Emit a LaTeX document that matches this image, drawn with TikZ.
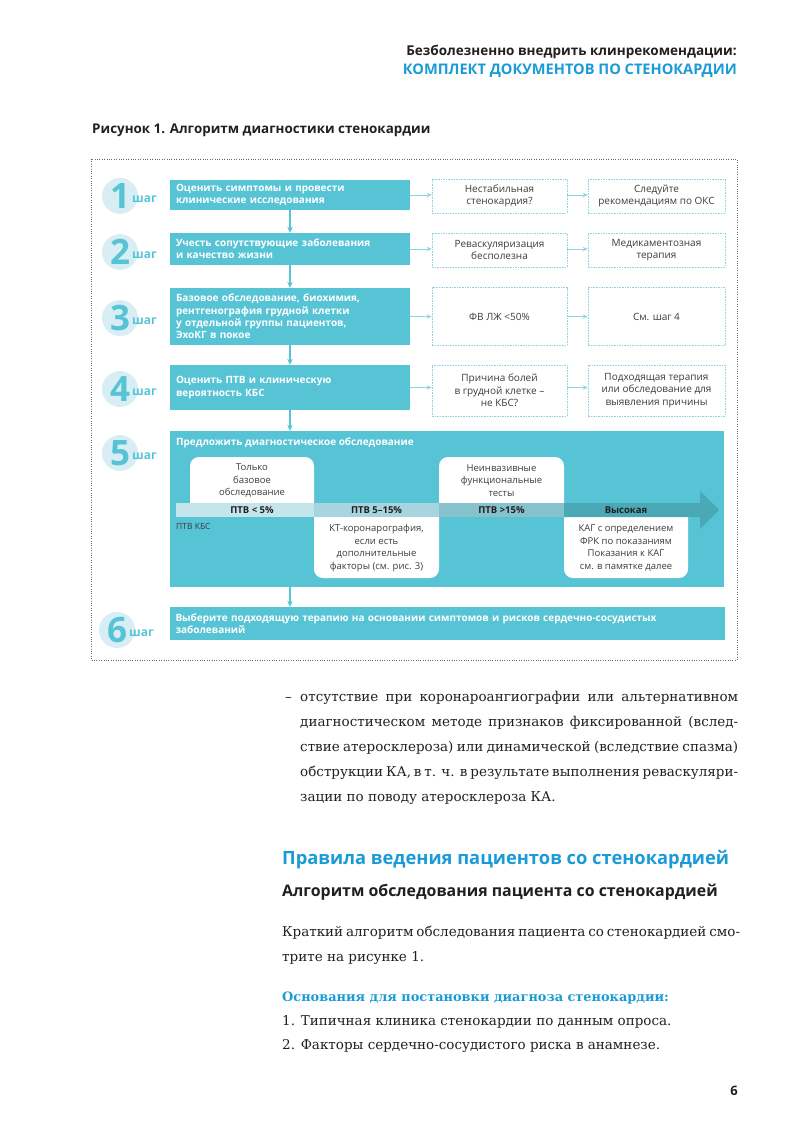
\documentclass[tikz,border=0pt]{standalone}
\usepackage{fontspec}
\setmainfont{DejaVu Serif}
\newfontfamily\os{Open Sans}
\usepackage{xcolor}
\usepackage{tikz}
\usetikzlibrary{arrows.meta,positioning}
\definecolor{biryuza}{HTML}{57C4D6}
\definecolor{biryuzasvet}{HTML}{8ED6E2}
\definecolor{krugfon}{HTML}{D8EEF4}
\definecolor{goluboy}{HTML}{1A9BD7}
\definecolor{temny}{HTML}{231F20}
\definecolor{seryj}{HTML}{3C3C3C}
\definecolor{ramkaser}{HTML}{6A6A6A}
\definecolor{polosa1}{HTML}{C5E5EC}
\definecolor{polosa2}{HTML}{A6D5DF}
\definecolor{polosa3}{HTML}{86C2CD}
\definecolor{polosa4}{HTML}{4AA8B7}
\newcommand{\rovno}[2]{\makebox[#1][s]{#2}}
\tikzset{
  blok/.style={fill=biryuza,text=white,font=\os\bfseries\fontsize{10}{12.4}\selectfont,align=left,text width=228pt,inner xsep=6pt,inner ysep=0pt},
  punktir/.style={draw=biryuzasvet,dash pattern=on 1.6pt off 1pt,line width=0.6pt,text=seryj,align=center,inner sep=2pt,minimum width=135pt,font=\os\fontsize{10}{12.4}\selectfont},
  krug/.style={circle,fill=krugfon,text=biryuza,minimum size=36pt,inner sep=0pt,font=\os\bfseries\fontsize{35}{35}\selectfont},
  shagtxt/.style={text=biryuza,font=\os\bfseries\fontsize{12}{12}\selectfont,inner sep=0pt,anchor=base west},
  strelka/.style={-{Stealth[length=6pt,width=5.5pt]},line width=1.2pt,biryuza},
  strelkab/.style={-{Stealth[length=5pt,width=4.5pt]},line width=1pt,biryuzasvet},
  belaya/.style={fill=white,rounded corners=9pt},
  tekstb/.style={text=seryj,align=center,inner sep=0pt},
  metka/.style={font=\os\bfseries\fontsize{9.5}{10}\selectfont,text=temny,inner sep=0pt},
  ramka/.style={draw=ramkaser,line width=0.8pt,dash pattern=on 0.8pt off 1.6pt},
  stroka/.style={anchor=base west,inner sep=0pt,font=\fontsize{13.5}{25}\selectfont,text=temny},
  zagolovok/.style={inner sep=0pt,font=\os\bfseries\fontsize{13.5}{16}\selectfont},
}
\begin{document}
\begin{tikzpicture}[x=1pt,y=-1pt,font=\os\fontsize{9.5}{12.4}\selectfont]
  \useasboundingbox (0,0) rectangle (790,1122);
  \node[zagolovok,text=temny,anchor=base east] (zag1) at (737,55.5) {Безболезненно внедрить клинрекомендации:};
  \node[zagolovok,text=goluboy,anchor=base east,font=\os\bfseries\fontsize{14.6}{16}\selectfont] (zag2) at (737,74) {КОМПЛЕКТ ДОКУМЕНТОВ ПО СТЕНОКАРДИИ};
  \node[zagolovok,text=temny,anchor=base west,font=\os\bfseries\fontsize{13.4}{15}\selectfont] (ris) at (92,133) {Рисунок 1. Алгоритм диагностики стенокардии};
  \draw[ramka] (91,159) rectangle (737,660);

  \node[blok,minimum height=30pt] (s1) at (290,195) {Оценить симптомы и провести\\клинические исследования};
  \node[blok,minimum height=32pt] (s2) at (290,249) {Учесть сопутствующие заболевания\\и качество жизни};
  \node[blok,minimum height=57pt] (s3) at (290,316.5) {Базовое обследование, биохимия,\\рентгенография грудной клетки\\у отдельной группы пациентов,\\ЭхоКГ в покое};
  \node[blok,minimum height=45pt] (s4) at (290,387.5) {Оценить ПТВ и клиническую\\вероятность КБС};
  \node[fill=biryuza,minimum width=554pt,minimum height=156pt,inner sep=0pt] (s5) at (447,509) {};
  \node[blok,text width=543pt,minimum height=33pt] (s6) at (447,623.5) {Выберите подходящую терапию на основании симптомов и рисков сердечно-сосудистых\\заболеваний};

  \node[krug] (k1) at (120,196) {1};
  \node[krug] (k2) at (120,252) {2};
  \node[krug] (k3) at (120,318) {3};
  \node[krug] (k4) at (120,389) {4};
  \node[krug] (k5) at (120,453) {5};
  \node[krug] (k6) at (117,630) {6};
  \node[shagtxt] (t1) at ([shift={(12,6)}]k1.center) {шаг};
  \node[shagtxt] (t2) at ([shift={(12,6)}]k2.center) {шаг};
  \node[shagtxt] (t3) at ([shift={(12,6)}]k3.center) {шаг};
  \node[shagtxt] (t4) at ([shift={(12,6)}]k4.center) {шаг};
  \node[shagtxt] (t5) at ([shift={(12,6)}]k5.center) {шаг};
  \node[shagtxt] (t6) at ([shift={(12,6)}]k6.center) {шаг};

  \node[punktir,minimum height=34pt] (d1a) at (499.5,196) {Нестабильная\\стенокардия?};
  \node[punktir,minimum height=34pt,minimum width=137pt] (d1b) at (656.5,196) {Следуйте\\рекомендациям по ОКС};
  \node[punktir,minimum height=34pt] (d2a) at (499.5,250) {Реваскуляризация\\бесполезна};
  \node[punktir,minimum height=34pt,minimum width=137pt] (d2b) at (656.5,250) {Медикаментозная\\терапия};
  \node[punktir,minimum height=58pt] (d3a) at (499.5,316.5) {ФВ ЛЖ <50\%};
  \node[punktir,minimum height=58pt,minimum width=137pt] (d3b) at (656.5,316.5) {См. шаг 4};
  \node[punktir,minimum height=51pt] (d4a) at (499.5,390.5) {Причина болей\\в грудной клетке –\\не КБС?};
  \node[punktir,minimum height=51pt,minimum width=137pt] (d4b) at (656.5,390.5) {Подходящая терапия\\или обследование для\\выявления причины};

  \draw[strelka] (s1) -- (s2);
  \draw[strelka] (s2) -- (s3);
  \draw[strelka] (s3) -- (s4);
  \draw[strelka] (s4.south) -- (s4.south |- s5.north);
  \draw[strelka] (s5.south -| s4.south) -- (s6.north -| s4.south);
  \draw[strelkab] (s1.east) -- (s1.east -| d1a.west);
  \draw[strelkab] (d1a.east |- s1.east) -- (s1.east -| d1b.west);
  \draw[strelkab] (s2.east) -- (s2.east -| d2a.west);
  \draw[strelkab] (d2a.east |- s2.east) -- (s2.east -| d2b.west);
  \draw[strelkab] (s3.east) -- (s3.east -| d3a.west);
  \draw[strelkab] (d3a.east |- s3.east) -- (s3.east -| d3b.west);
  \draw[strelkab] (s4.east) -- (s4.east -| d4a.west);
  \draw[strelkab] (d4a.east |- s4.east) -- (s4.east -| d4b.west);

  \node[anchor=base west,inner sep=0pt,text=white,font=\os\bfseries\fontsize{10}{12.4}\selectfont] (s5t) at (176,445.5) {Предложить диагностическое обследование};
  \fill[belaya] (190,511) rectangle (314,457);
  \fill[belaya] (439,511) rectangle (564,457);
  \fill[belaya] (314,509) rectangle (439,578);
  \fill[belaya] (564,509) rectangle (688,578);
  \fill[polosa1] (176,503) rectangle (314,517);
  \fill[polosa2] (314,503) rectangle (439,517);
  \fill[polosa3] (439,503) rectangle (564,517);
  \fill[polosa4] (564,503) -- (700,503) -- (700,491) -- (719,510) -- (700,529) -- (700,517) -- (564,517) -- cycle;
  \node[tekstb] (b1) at (252,480.5) {Только\\базовое\\обследование};
  \node[tekstb] (b3) at (501.5,480.5) {Неинвазивные\\функциональные\\тесты};
  \node[tekstb] (b2) at (376.5,548) {КТ-коронарография,\\если есть\\дополнительные\\факторы (см. рис. 3)};
  \node[tekstb] (b4) at (626,548) {КАГ с определением\\ФРК по показаниям\\Показания к КАГ\\см. в памятке далее};
  \node[metka] (m1) at (252,510) {ПТВ < 5\%};
  \node[metka] (m2) at (376.5,510) {ПТВ 5–15\%};
  \node[metka] (m3) at (501.5,510) {ПТВ >15\%};
  \node[metka] (m4) at (626,510) {Высокая};
  \node[anchor=west,inner sep=0pt,text=seryj,font=\os\fontsize{8.5}{9}\selectfont] (kbs) at (176,526) {ПТВ КБС};

  \node[stroka] (tire) at (285,701) {–};
  \node[stroka] (p1) at (300,701) {\rovno{438pt}{отсутствие при коронароангиографии или альтернативном}};
  \node[stroka] (p2) at (300,726) {\rovno{438pt}{диагностическом методе признаков фиксированной (вслед-}};
  \node[stroka] (p3) at (300,751) {\rovno{438pt}{ствие атеросклероза) или динамической (вследствие спазма)}};
  \node[stroka] (p4) at (300,776) {\rovno{438pt}{обструкции КА, в т. ч. в результате выполнения реваскуляри-}};
  \node[stroka] (p5) at (300,801) {зации по поводу атеросклероза КА.};

  \node[anchor=base west,inner sep=0pt,text=goluboy,font=\os\bfseries\fontsize{18.3}{20}\selectfont] (pravila) at (282,864) {Правила ведения пациентов со стенокардией};
  \node[anchor=base west,inner sep=0pt,text=temny,font=\os\bfseries\fontsize{15.9}{18}\selectfont] (algo) at (282,896.5) {Алгоритм обследования пациента со стенокардией};
  \node[stroka] (k1t) at (282,936) {\rovno{456pt}{Краткий алгоритм обследования пациента со стенокардией смо-}};
  \node[stroka] (k2t) at (282,961) {трите на рисунке 1.};
  \node[stroka,text=goluboy,font=\bfseries\fontsize{12.9}{25}\selectfont] (osn) at (282,1001) {Основания для постановки диагноза стенокардии:};
  \node[stroka] (o1) at (282,1025) {1. Типичная клиника стенокардии по данным опроса.};
  \node[stroka] (o2) at (282,1049) {2. Факторы сердечно-сосудистого риска в анамнезе.};
  \node[anchor=base east,inner sep=0pt,text=temny,font=\os\bfseries\fontsize{13}{15}\selectfont] (nomer) at (738,1095) {6};
\end{tikzpicture}
\end{document}
